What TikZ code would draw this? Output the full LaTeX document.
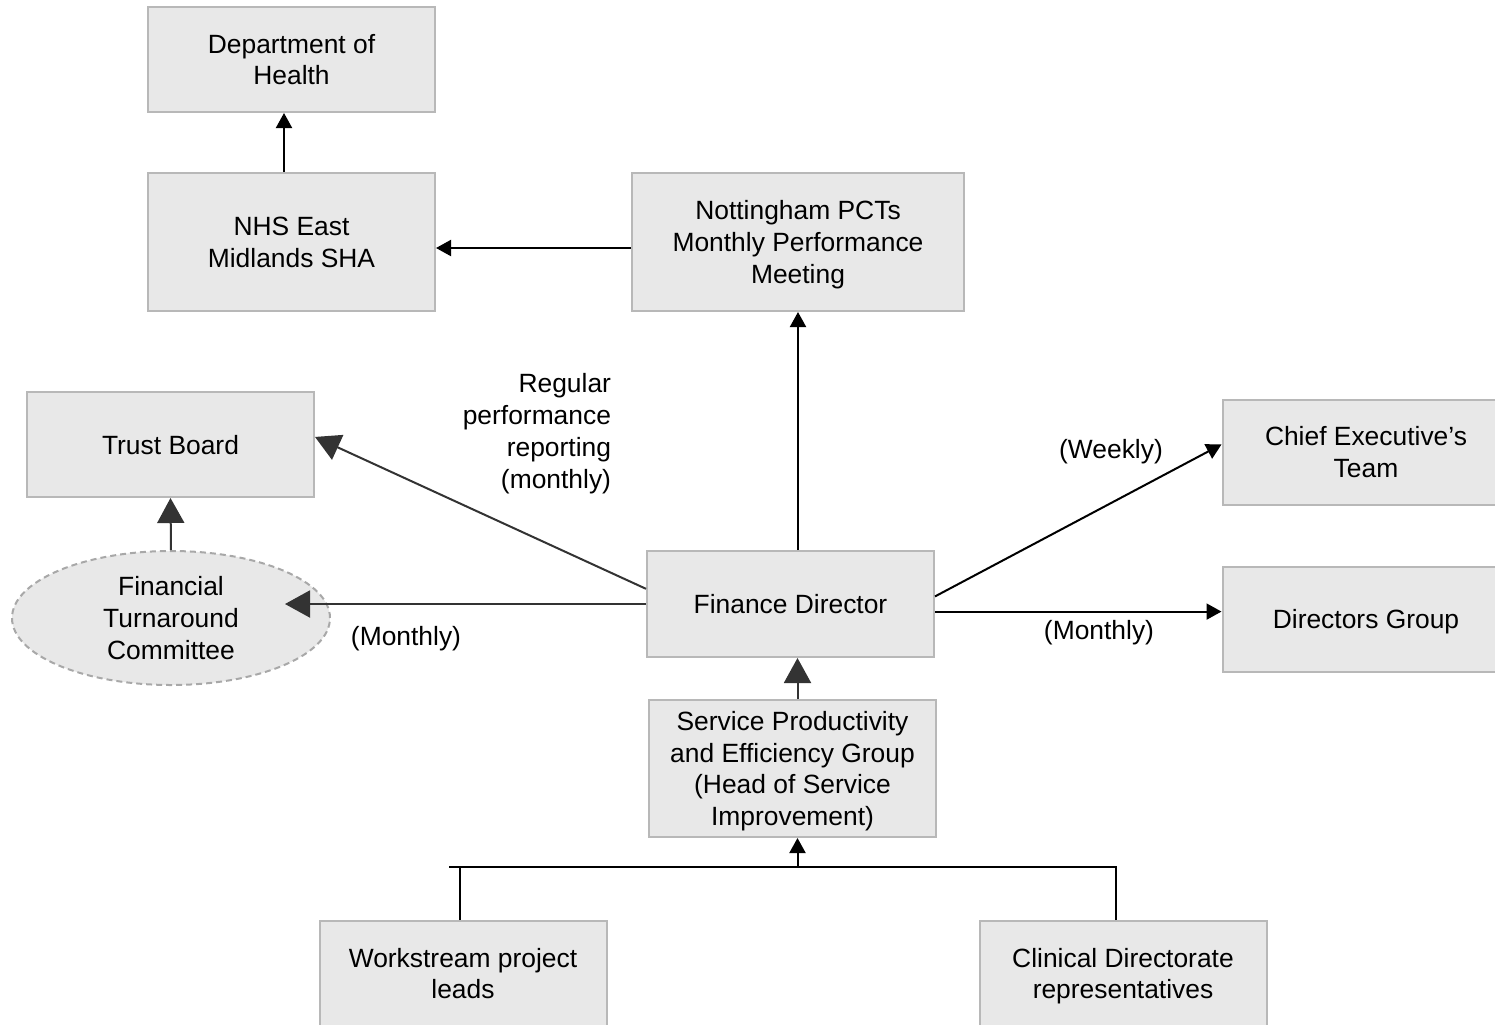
\documentclass[tikz,border=0pt]{standalone}
\usepackage{fontspec}
\setmainfont{Liberation Sans}
\usetikzlibrary{arrows.meta}
\usetikzlibrary{calc}
\usetikzlibrary{shapes.geometric}

\definecolor{boxfill}{HTML}{E8E8E8}
\definecolor{boxline}{HTML}{B8B8B8}
\definecolor{ellline}{HTML}{A8A8A8}
\definecolor{bigarrow}{HTML}{333333}

\tikzset{
  box/.style={draw=boxline, fill=boxfill, line width=1pt, align=center, inner sep=2pt,
    minimum width=143.5pt, minimum height=52.5pt, text depth=0pt},
  small/.style={-{Triangle[length=7.5pt,width=8pt]}},
  big/.style={draw=bigarrow, -{Triangle[length=12.5pt,width=13.5pt]}},
  lbl/.style={align=right, inner sep=0pt}
}

\begin{document}
\begin{tikzpicture}[x=0.5pt, y=-0.5pt, line width=1pt, font=\fontsize{13.2}{15.8}\selectfont]
\clip (0,0) rectangle (1495,1024);

% boxes
\node[box] (doh) at (291.5,59.5) {Department of\\Health};
\node[box, minimum height=69pt] (sha) at (291.5,242) {NHS East\\Midlands SHA};
\node[box, minimum width=166pt, minimum height=69pt] (pct) at (798,242) {Nottingham PCTs\\Monthly Performance\\Meeting};
\node[box] (tb) at (170.5,444.5) {Trust Board};
\node[ellipse, draw=ellline, fill=boxfill, dash pattern=on 3pt off 2pt, align=center,
  minimum width=159pt, minimum height=67pt, inner sep=0pt] (ftc) at (171,618) {Financial\\Turnaround\\Committee};
\node[box, minimum height=53pt] (fd) at (790.5,604) {Finance Director};
\node[box] (cet) at (1366,452) {Chief Executive’s\\Team};
\node[box] (dg) at (1366,619) {Directors Group};
\node[box, minimum height=68.5pt] (speg) at (792.5,768.5) {Service Productivity\\and Efficiency Group\\(Head of Service\\Improvement)};
\node[box] (wpl) at (463,973.5) {Workstream project\\leads};
\node[box] (cdr) at (1123,973.5) {Clinical Directorate\\representatives};

% labels
\node[lbl, anchor=east, font=\fontsize{13.2}{16}\selectfont] (rpr) at (612,434) {Regular\\performance\\reporting\\(monthly)};
\node (wk) at (1111,452) {(Weekly)};
\node (mo1) at (1099,633) {(Monthly)};
\node (mo2) at (406,639) {(Monthly)};

% connectors
\draw[small] ([xshift=-3.75pt]sha.north) -- ([xshift=-3.75pt]sha.north |- doh.south);
\draw[small] ([yshift=-3pt]pct.west) -- ([yshift=-3pt]pct.west -| sha.east);
\draw[small] (fd.north -| pct.south) -- (pct.south);
\draw[big] (fd.174) -- (tb.3);
\draw[big] (ftc.north) -- (tb.south);
\coordinate (ftcin) at (285,604);
\draw[big] (fd.west) -- (fd.west -| ftcin);
\draw[small] (fd.3) -- (cet.177);
\draw[small] (fd.-3) -- (fd.-3 -| dg.west);
\draw[big] ([xshift=2.5pt]speg.north) -- ([xshift=2.5pt]speg.north |- fd.south);

% bus to the two groups below
\coordinate (bus) at (449,867);
\draw ([xshift=-3.5pt]cdr.north) |- (bus);
\draw ([xshift=-1.5pt]wpl.north) -- ([xshift=-1.5pt]wpl.north |- bus);
\draw[small] ([xshift=2.5pt]speg.south |- bus) -- ([xshift=2.5pt]speg.south);
\end{tikzpicture}
\end{document}
